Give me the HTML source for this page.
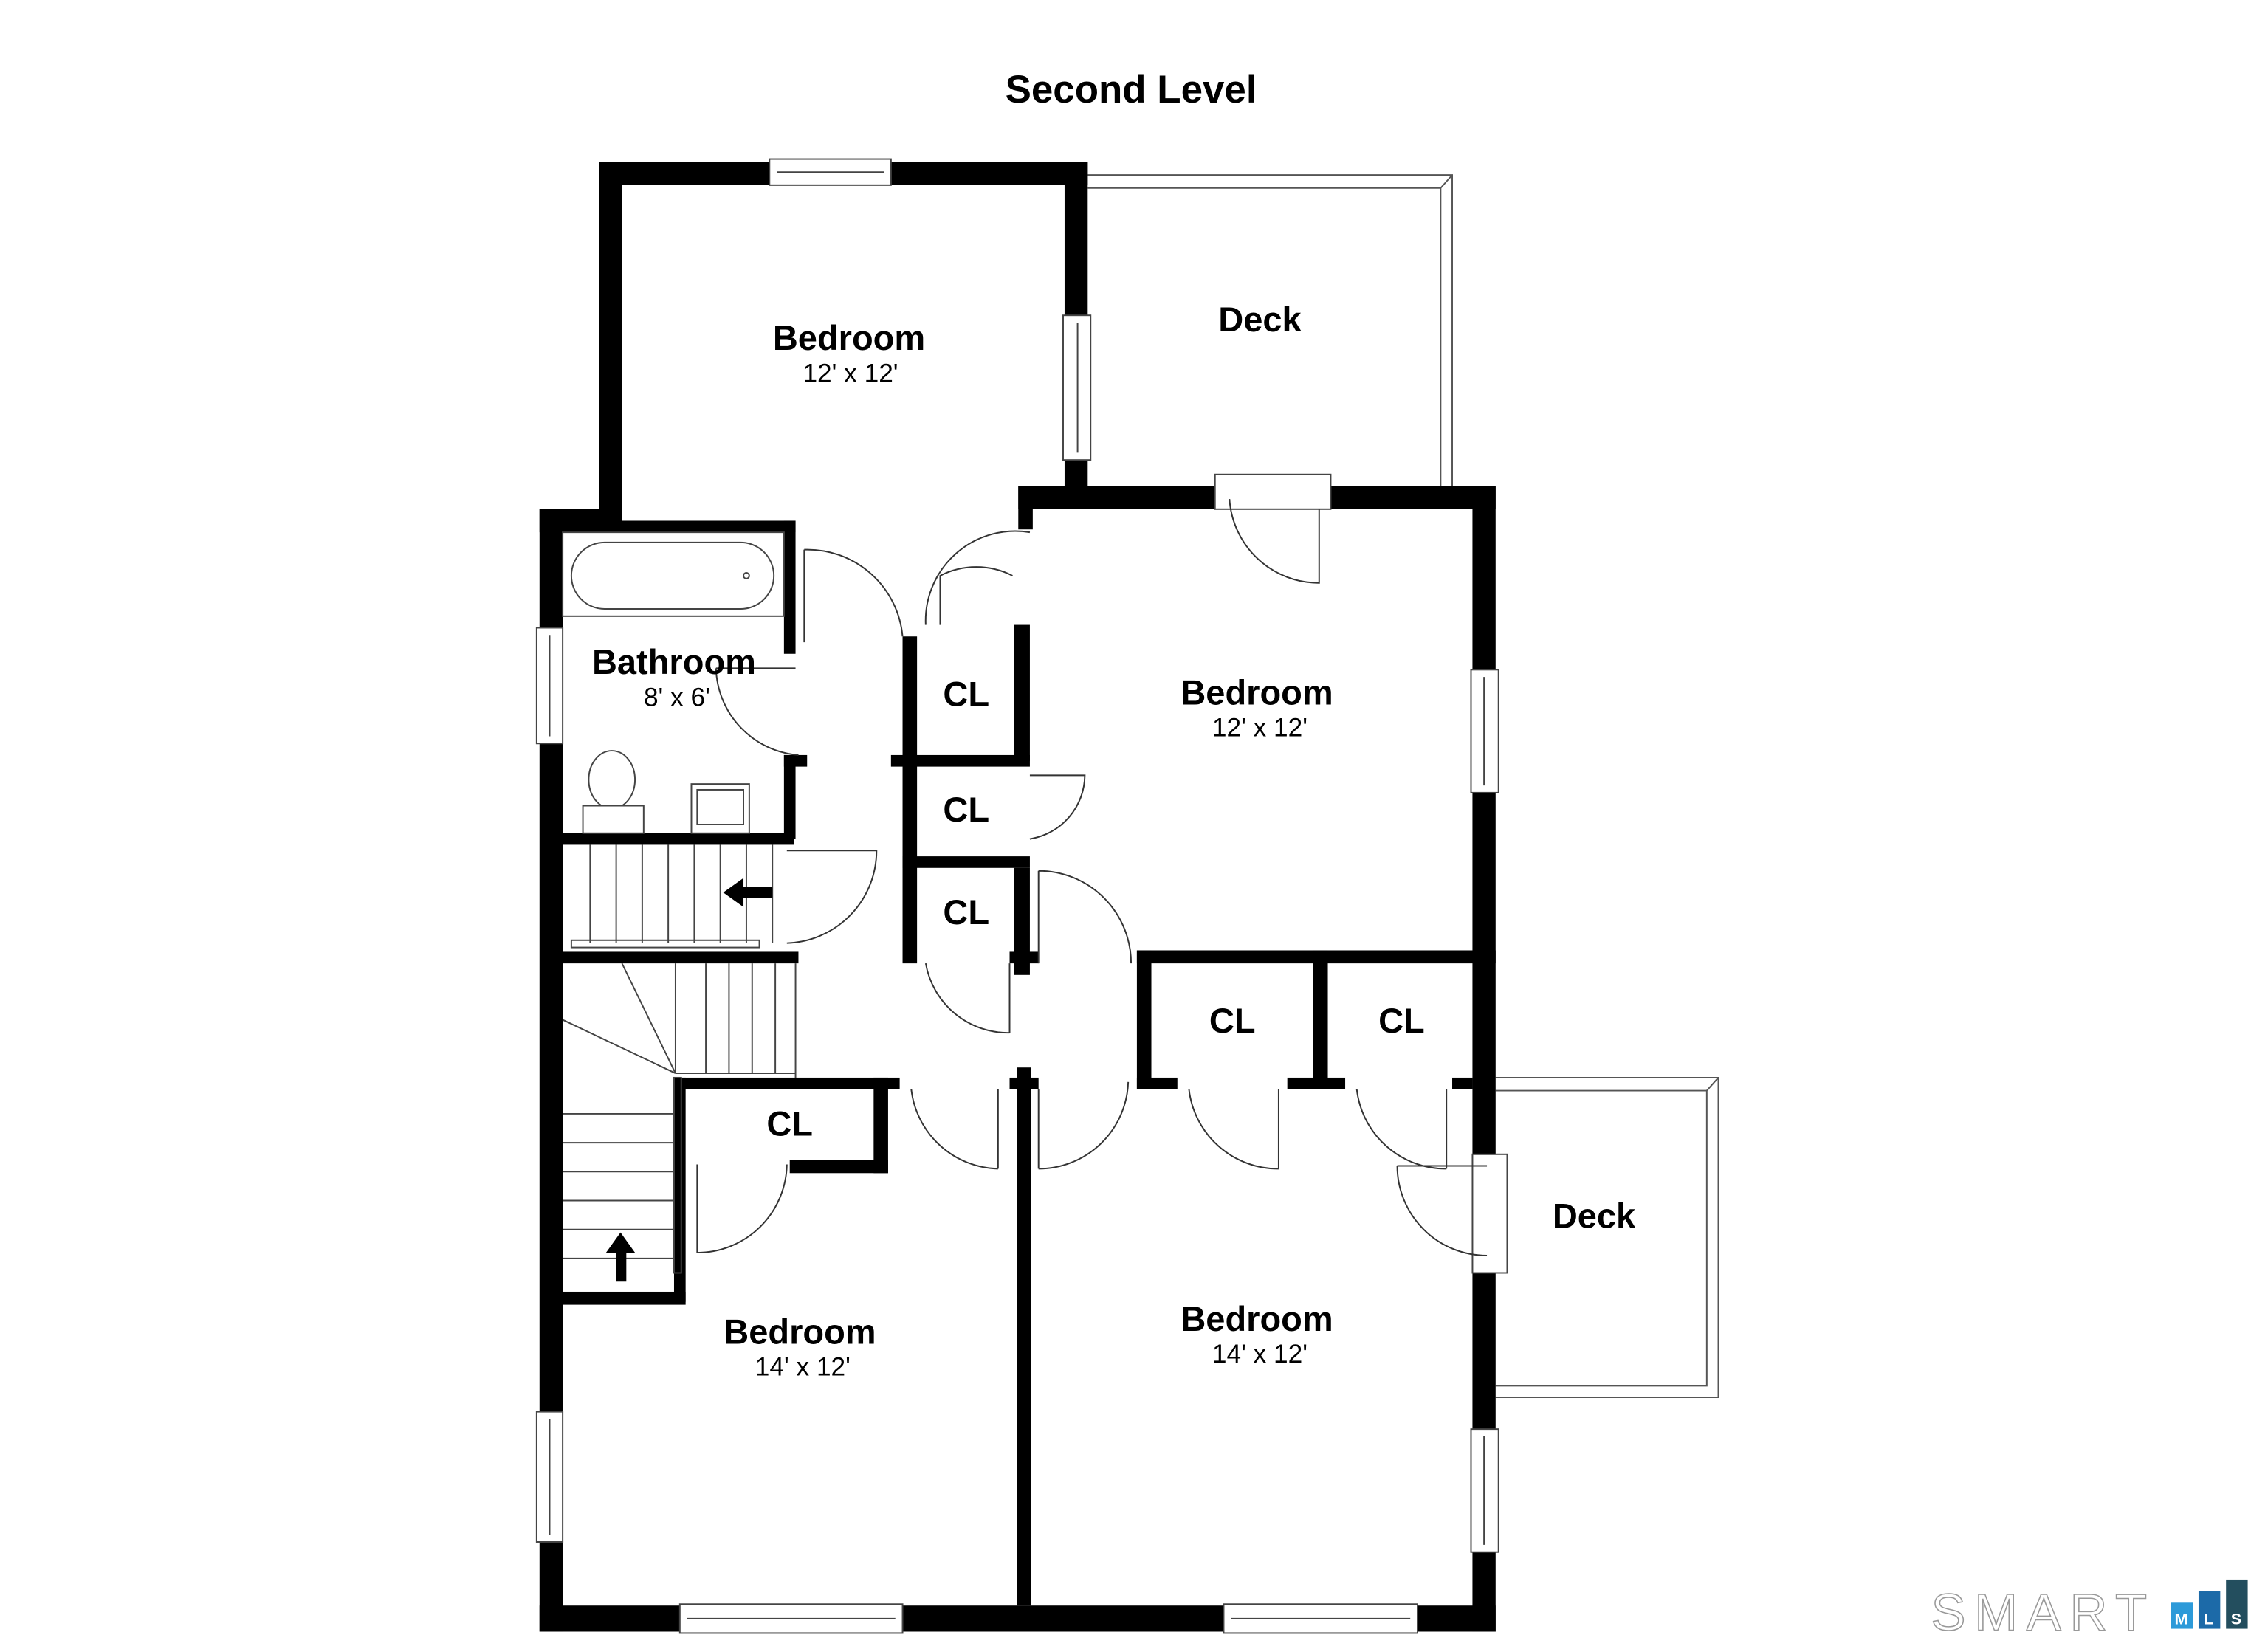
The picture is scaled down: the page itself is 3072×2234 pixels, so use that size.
<!DOCTYPE html>
<html><head><meta charset="utf-8"><style>
html,body{margin:0;padding:0;background:#fff;}
svg{display:block;}
text{font-family:"Liberation Sans",Arial,sans-serif;}
</style></head><body>
<svg width="3072" height="2234" viewBox="0 0 1568 1140" preserveAspectRatio="none" xmlns="http://www.w3.org/2000/svg">
<rect width="1568" height="1140" fill="#fff"/>
<text x="782" y="71" font-size="27" font-weight="bold" text-anchor="middle">Second Level</text>

<g fill="none" stroke="#555" stroke-width="1">
<path d="M752 121 H1004 V336 M752 130 H996 V336 M996 130 L1004 121"/>
<path d="M1034 745 H1188 V966 H1034 M1034 754 H1180 V958 H1034 M1180 754 L1188 745"/>
</g>

<g fill="#000">
<rect x="414" y="112" width="338" height="16"/>
<rect x="414" y="112" width="16" height="256"/>
<rect x="736" y="112" width="16" height="232"/>
<rect x="373" y="352" width="57" height="16"/>
<rect x="373" y="352" width="16" height="776"/>
<rect x="373" y="1110" width="661" height="18"/>
<rect x="704" y="336" width="330" height="16"/>
<rect x="704" y="336" width="10" height="30"/>
<rect x="1018" y="336" width="16" height="792"/>
<rect x="430" y="360" width="120" height="8"/>
<rect x="542" y="360" width="8" height="92"/>
<rect x="542" y="522" width="8" height="58"/>
<rect x="542" y="522" width="16" height="8"/>
<rect x="389" y="576" width="160" height="8"/>
<rect x="389" y="658" width="163" height="8"/>
<rect x="624" y="440" width="10" height="226"/>
<rect x="701" y="432" width="11" height="94"/>
<rect x="616" y="522" width="96" height="8"/>
<rect x="624" y="592" width="88" height="8"/>
<rect x="701" y="600" width="11" height="74"/>
<rect x="698" y="658" width="20" height="8"/>
<rect x="703" y="738" width="10" height="372"/>
<rect x="698" y="745" width="20" height="8"/>
<rect x="470" y="745" width="152" height="8"/>
<rect x="466" y="745" width="8" height="155"/>
<rect x="389" y="893" width="85" height="9"/>
<rect x="604" y="745" width="10" height="66"/>
<rect x="546" y="802" width="68" height="9"/>
<rect x="786" y="657" width="248" height="9"/>
<rect x="786" y="657" width="10" height="96"/>
<rect x="908" y="657" width="10" height="96"/>
<rect x="786" y="745" width="28" height="8"/>
<rect x="890" y="745" width="40" height="8"/>
<rect x="1004" y="745" width="14" height="8"/>
</g>

<g fill="#fff" stroke="#444" stroke-width="1">
<rect x="532" y="110" width="84" height="18"/><line x1="537" y1="119" x2="611" y2="119"/>
<rect x="735" y="218" width="19" height="100"/><line x1="745" y1="223" x2="745" y2="313"/>
<rect x="371" y="434" width="18" height="80"/><line x1="380" y1="439" x2="380" y2="509"/>
<rect x="371" y="976" width="18" height="90"/><line x1="380" y1="981" x2="380" y2="1061"/>
<rect x="1017" y="463" width="19" height="85"/><line x1="1026" y1="468" x2="1026" y2="543"/>
<rect x="1017" y="988" width="19" height="85"/><line x1="1026" y1="993" x2="1026" y2="1068"/>
<rect x="470" y="1109" width="154" height="20"/><line x1="475" y1="1119" x2="619" y2="1119"/>
<rect x="846" y="1109" width="134" height="20"/><line x1="851" y1="1119" x2="975" y2="1119"/>
<rect x="840" y="328" width="80" height="24"/>
<rect x="1018" y="798" width="24" height="82"/>
</g>

<g fill="none" stroke="#333" stroke-width="1">
<path d="M556 380 V444 M556 380 A66 66 0 0 1 624 440"/>
<path d="M712 368 A62 62 0 0 0 640 432 M650 432 V398 A55 55 0 0 1 700 398"/>
<path d="M912 352 V403 A62 62 0 0 1 850 345"/>
<path d="M495 462 A62 62 0 0 0 552 522 M495 462 H550"/>
<path d="M712 536 H750 A45 45 0 0 1 712 580"/>
<path d="M544 588 H606 A64 64 0 0 1 544 652"/>
<path d="M718 602 A64 64 0 0 1 782 666 M718 602 V666"/>
<path d="M640 666 A58 58 0 0 0 698 714 M698 666 V714"/>
<path d="M630 753 A62 62 0 0 0 690 808 M690 753 V808"/>
<path d="M718 808 A62 62 0 0 0 780 748 M718 753 V808"/>
<path d="M822 753 A62 62 0 0 0 884 808 M884 753 V808"/>
<path d="M938 753 A62 62 0 0 0 1000 808 M1000 753 V808"/>
<path d="M966 806 A62 62 0 0 0 1028 868 M966 806 H1028"/>
<path d="M482 805 V866 M544 805 A62 62 0 0 1 482 866"/>
</g>

<g fill="#fff" stroke="#444" stroke-width="1">
<rect x="389" y="368" width="153" height="58"/>
<rect x="395" y="375" width="140" height="46" rx="23"/>
<circle cx="516" cy="398" r="2"/>
<ellipse cx="423" cy="539" rx="16" ry="20"/>
<rect x="403" y="557" width="42" height="19"/>
<rect x="478" y="542" width="40" height="34"/>
<rect x="482" y="546" width="32" height="24"/>
</g>

<g fill="none" stroke="#444" stroke-width="1">
<path d="M408 584 V652 M426 584 V652 M444 584 V652 M462 584 V652 M480 584 V652 M498 584 V652 M516 584 V652 M534 584 V652"/>
<rect x="395" y="650" width="130" height="5"/>
<path d="M488 666 V742 M504 666 V742 M520 666 V742 M536 666 V742 M550 666 V745"/>
<path d="M467 666 V742 M467 742 H550 M430 666 L467 742 M389 705 L467 742"/>
<path d="M389 770 H466 M389 790 H466 M389 810 H466 M389 830 H466 M389 850 H466 M389 870 H466"/>
<rect x="466" y="745" width="5" height="135"/>
</g>
<g fill="#000">
<rect x="512" y="613" width="22" height="8"/><polygon points="500,617 514,607 514,627"/>
<rect x="426" y="864" width="7" height="22"/><polygon points="429,852 419,866 439,866"/>
</g>

<g text-anchor="middle">
<text x="587" y="242" font-size="24" font-weight="bold">Bedroom</text>
<text x="588" y="264" font-size="18">12' x 12'</text>
<text x="871" y="229" font-size="24" font-weight="bold">Deck</text>
<text x="466" y="466" font-size="24" font-weight="bold">Bathroom</text>
<text x="468" y="488" font-size="18">8' x 6'</text>
<text x="869" y="487" font-size="24" font-weight="bold">Bedroom</text>
<text x="871" y="509" font-size="18">12' x 12'</text>
<text x="668" y="488" font-size="24" font-weight="bold">CL</text>
<text x="668" y="568" font-size="24" font-weight="bold">CL</text>
<text x="668" y="639" font-size="24" font-weight="bold">CL</text>
<text x="852" y="714" font-size="24" font-weight="bold">CL</text>
<text x="969" y="714" font-size="24" font-weight="bold">CL</text>
<text x="546" y="785" font-size="24" font-weight="bold">CL</text>
<text x="1102" y="849" font-size="24" font-weight="bold">Deck</text>
<text x="553" y="929" font-size="24" font-weight="bold">Bedroom</text>
<text x="555" y="951" font-size="18">14' x 12'</text>
<text x="869" y="920" font-size="24" font-weight="bold">Bedroom</text>
<text x="871" y="942" font-size="18">14' x 12'</text>
</g>

<text x="1335" y="1127" font-size="36" fill="#fff" stroke="#999" stroke-width="0.8" letter-spacing="6">SMART</text>
<rect x="1501" y="1108" width="15" height="18" fill="#2c9ad9"/>
<rect x="1520" y="1100" width="15" height="26" fill="#1c6aa8"/>
<rect x="1539" y="1092" width="15" height="34" fill="#234e5e"/>
<g fill="#fff" font-size="11" font-weight="bold" text-anchor="middle">
<text x="1508" y="1123">M</text><text x="1527" y="1123">L</text><text x="1546" y="1123">S</text>
</g>
</svg>
</body></html>
